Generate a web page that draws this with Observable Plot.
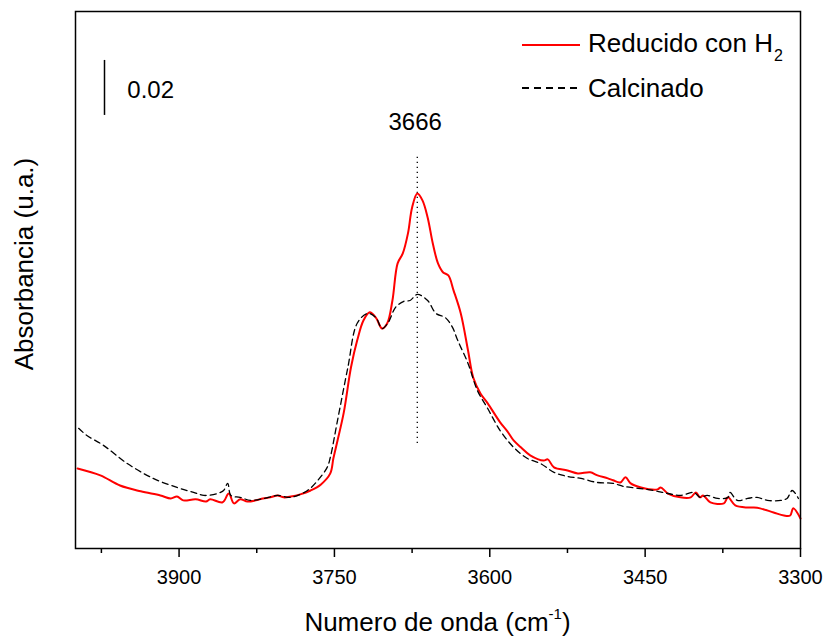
<!DOCTYPE html>
<html>
<head>
<meta charset="utf-8">
<script src="https://cdn.jsdelivr.net/npm/d3@7"></script>
<script src="https://cdn.jsdelivr.net/npm/@observablehq/plot@0.6"></script>
<style>
  html, body { margin: 0; padding: 0; background: white; overflow: hidden; }
  #wrap { position: relative; width: 827px; height: 636px; overflow: hidden;
          font-family: "Liberation Sans", Arial, Helvetica, sans-serif; color: black; }
  .xlabel { position: absolute; left: 75px; width: 725px; top: 609px; text-align: center;
            font-size: 26px; line-height: 26px; white-space: nowrap; }
  .sup { position: relative; top: -12px; font-size: 15px; }
  .row { position: absolute; left: 522px; height: 30px; display: flex; align-items: center;
         font-size: 26px; line-height: 30px; white-space: nowrap; }
  .sw { display: inline-block; width: 58px; margin-right: 8px; }
  .sw.red { height: 2px; background: #ff0000; }
  .sw.dash { height: 1.4px; background: repeating-linear-gradient(to right, #000 0 7px, transparent 7px 12px); }
  .sub { position: relative; top: 9px; font-size: 16px; margin-left: 1px; }
</style>
</head>
<body>
<div id="wrap">
  <div id="chart"></div>
  <div class="xlabel">Numero de onda (cm<span class="sup">-1</span>)</div>
  <div class="row" style="top:30px"><span class="sw red"></span><span>Reducido con H<span class="sub">2</span></span></div>
  <div class="row" style="top:73px"><span class="sw dash"></span><span>Calcinado</span></div>
</div>
<script>
// Wavenumber (cm-1) and absorbance readings
const reducedWn = [3998, 3976, 3957, 3937, 3918, 3908, 3902, 3896, 3884, 3874, 3870, 3858, 3852, 3847, 3841, 3834, 3826, 3819, 3812, 3805, 3799, 3792, 3783, 3773, 3763, 3754, 3751, 3747, 3741, 3734, 3728, 3722, 3716, 3710, 3704, 3699, 3694, 3689, 3684, 3679, 3675, 3670, 3665, 3660, 3655, 3650, 3645, 3640, 3635, 3628, 3621, 3616, 3609, 3602, 3590, 3583, 3577, 3570, 3561, 3548, 3544, 3538, 3525, 3515, 3503, 3496, 3486, 3481, 3474, 3469, 3464, 3454, 3438, 3435, 3428, 3416, 3406, 3401, 3397, 3394, 3387, 3374, 3370, 3363, 3351, 3345, 3339, 3326, 3316, 3310, 3307, 3300];
const reducedAbs = [0.0287, 0.0262, 0.0225, 0.0204, 0.0189, 0.0178, 0.0185, 0.0171, 0.0175, 0.0167, 0.0175, 0.0164, 0.0196, 0.0160, 0.0175, 0.0167, 0.0171, 0.0178, 0.0182, 0.0189, 0.0182, 0.0185, 0.0193, 0.0207, 0.0229, 0.0269, 0.0324, 0.0389, 0.0490, 0.0655, 0.0753, 0.0825, 0.0855, 0.0836, 0.0796, 0.0815, 0.0898, 0.1033, 0.1069, 0.1142, 0.1236, 0.1287, 0.1262, 0.1200, 0.1105, 0.1033, 0.1000, 0.0989, 0.0935, 0.0851, 0.0716, 0.0618, 0.0560, 0.0524, 0.0455, 0.0422, 0.0389, 0.0364, 0.0335, 0.0316, 0.0320, 0.0291, 0.0280, 0.0269, 0.0273, 0.0262, 0.0251, 0.0244, 0.0236, 0.0255, 0.0233, 0.0218, 0.0211, 0.0218, 0.0196, 0.0182, 0.0182, 0.0200, 0.0182, 0.0189, 0.0164, 0.0160, 0.0182, 0.0153, 0.0145, 0.0145, 0.0142, 0.0127, 0.0116, 0.0116, 0.0142, 0.0105];

const calcinedWn = [3997, 3989, 3973, 3950, 3925, 3902, 3886, 3876, 3863, 3857, 3853, 3850, 3841, 3831, 3818, 3805, 3792, 3776, 3766, 3757, 3754, 3747, 3737, 3728, 3718, 3710, 3704, 3698, 3691, 3683, 3677, 3670, 3660, 3652, 3643, 3636, 3631, 3621, 3612, 3602, 3590, 3577, 3564, 3551, 3538, 3525, 3512, 3496, 3481, 3471, 3457, 3442, 3428, 3416, 3403, 3397, 3390, 3380, 3370, 3368, 3361, 3351, 3342, 3332, 3319, 3313, 3308, 3302];
const calcinedAbs = [0.0433, 0.0407, 0.0371, 0.0305, 0.0251, 0.0218, 0.0200, 0.0189, 0.0196, 0.0207, 0.0233, 0.0189, 0.0182, 0.0171, 0.0178, 0.0189, 0.0182, 0.0207, 0.0244, 0.0291, 0.0327, 0.0462, 0.0655, 0.0815, 0.0851, 0.0836, 0.0796, 0.0818, 0.0873, 0.0895, 0.0898, 0.0920, 0.0898, 0.0851, 0.0836, 0.0800, 0.0753, 0.0669, 0.0571, 0.0505, 0.0425, 0.0364, 0.0324, 0.0305, 0.0273, 0.0258, 0.0251, 0.0236, 0.0233, 0.0222, 0.0215, 0.0207, 0.0196, 0.0189, 0.0200, 0.0182, 0.0189, 0.0178, 0.0182, 0.0200, 0.0171, 0.0178, 0.0182, 0.0171, 0.0171, 0.0178, 0.0207, 0.0178];

const majorTicks = [3900, 3750, 3600, 3450, 3300];
const minorTicks = [3975, 3825, 3675, 3525, 3375];

// Peak marker and 0.02 absorbance scale bar
const peakLine = [{wn: 3670, from: 0.0378, to: 0.1425}];
const peakLabel = [{wn: 3672, abs: 0.1545, text: "3666"}];
const scaleBar = [{wn: 3972, from: 0.1571, to: 0.1771}];
const scaleLabel = [{wn: 3950, abs: 0.1662, text: "0.02"}];

const reduced = reducedWn.map((wn, i) => ({wn, abs: reducedAbs[i]}));
const calcined = calcinedWn.map((wn, i) => ({wn, abs: calcinedAbs[i]}));

const FONT = '"Liberation Sans", Arial, Helvetica, sans-serif';

const chart = Plot.plot({
  width: 827,
  height: 636,
  marginLeft: 75,
  marginRight: 27,
  marginTop: 11,
  marginBottom: 88,
  x: {domain: [4000, 3300], axis: null},
  y: {domain: [-0.0004, 0.1949], axis: null},
  style: {fontFamily: FONT, color: "black", background: "white", overflow: "visible"},
  marks: [
    Plot.axisX({ticks: minorTicks, tickSize: 5, tickFormat: () => "", label: null, strokeWidth: 1.5}),
    Plot.axisX({ticks: majorTicks, tickSize: 9, tickPadding: 12, fontSize: 20, label: null, strokeWidth: 1.5, tickFormat: d => String(d)}),
    Plot.ruleX(peakLine, {x: "wn", y1: "from", y2: "to", stroke: "black", strokeWidth: 1.3, strokeDasharray: "1.3,3.7"}),
    Plot.line(reduced, {x: "wn", y: "abs", stroke: "#ff0000", strokeWidth: 2, curve: "catmull-rom"}),
    Plot.line(calcined, {x: "wn", y: "abs", stroke: "black", strokeWidth: 1.3, strokeDasharray: "6,4", curve: "catmull-rom"}),
    Plot.text(peakLabel, {x: "wn", y: "abs", text: "text", fontSize: 24, textAnchor: "middle", lineAnchor: "middle", fill: "black"}),
    Plot.ruleX(scaleBar, {x: "wn", y1: "from", y2: "to", stroke: "black", strokeWidth: 1.5}),
    Plot.text(scaleLabel, {x: "wn", y: "abs", text: "text", fontSize: 24, textAnchor: "start", lineAnchor: "middle", fill: "black"}),
    Plot.text(["Absorbancia (u.a.)"], {frameAnchor: "left", rotate: -90, dx: -51, dy: -16, fontSize: 26, textAnchor: "middle", lineAnchor: "middle", fill: "black"}),
    Plot.frame({stroke: "black", strokeWidth: 1.5})
  ]
});
document.getElementById("chart").appendChild(chart);
</script>
</body>
</html>
